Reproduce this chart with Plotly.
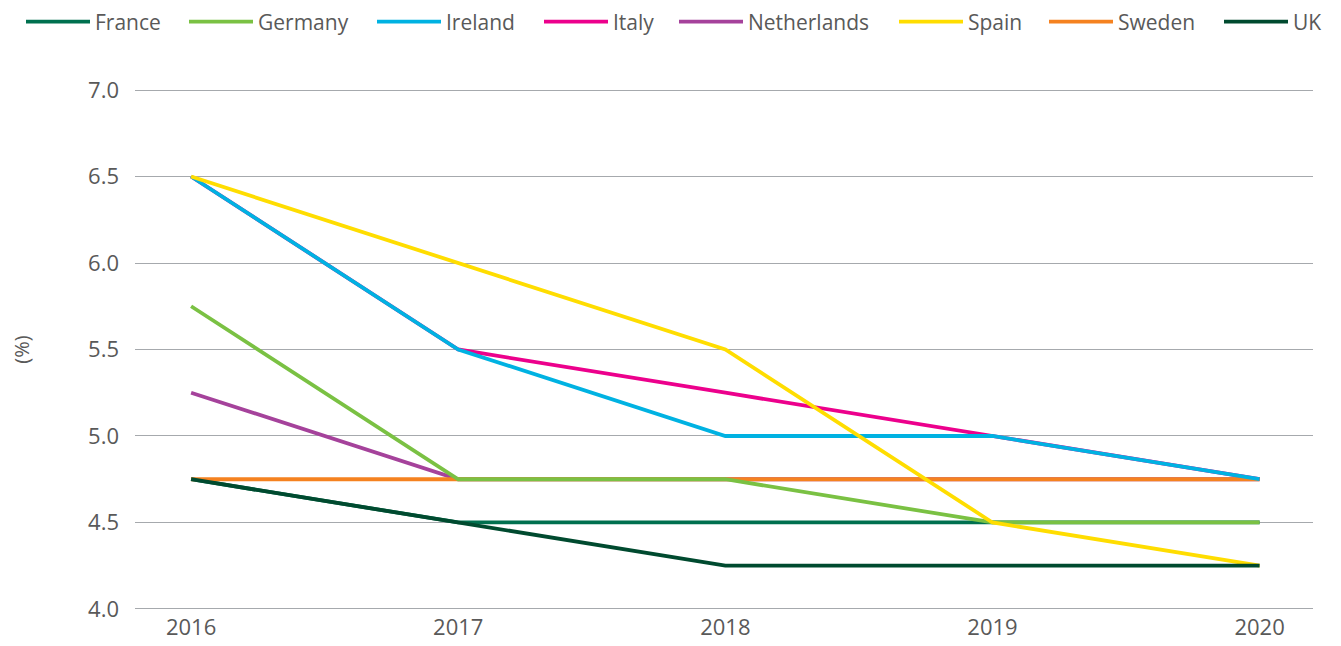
import plotly.graph_objects as go

years = [2016, 2017, 2018, 2019, 2020]
france = [4.75, 4.5, 4.5, 4.5, 4.5]
germany = [5.75, 4.75, 4.75, 4.5, 4.5]
ireland = [6.5, 5.5, 5.0, 5.0, 4.75]
italy = [6.5, 5.5, 5.25, 5.0, 4.75]
netherlands = [5.25, 4.75, 4.75, 4.75, 4.75]
spain = [6.5, 6.0, 5.5, 4.5, 4.25]
sweden = [4.75, 4.75, 4.75, 4.75, 4.75]
uk = [4.75, 4.5, 4.25, 4.25, 4.25]

# (name, values, colour, legend id, legend line-start px); listed in drawing order
series = [
    ("France", france, "#00704f", "legend", 27),
    ("Netherlands", netherlands, "#a5429b", "legend5", 680),
    ("Italy", italy, "#ec008c", "legend4", 545),
    ("Sweden", sweden, "#f58220", "legend7", 1050),
    ("Germany", germany, "#7ac143", "legend2", 190),
    ("Ireland", ireland, "#00b2e2", "legend3", 378),
    ("Spain", spain, "#ffdd00", "legend6", 900),
    ("UK", uk, "#004a2f", "legend8", 1225),
]

W, H = 1341, 646
OFF = 8  # page body margin
FONT = "Open Sans"
TXT = "#595959"

fig = go.Figure()
legends = {}
for name, vals, col, lg, lx in series:
    fig.add_trace(go.Scatter(x=years, y=vals, name=name, mode="lines",
                             line=dict(color=col, width=3.8),
                             legend=lg))
    legends[lg] = dict(orientation="h", xref="container", yref="container",
                       x=(lx - OFF - 6) / W, xanchor="left",
                       y=1 - (22 - OFF) / H, yanchor="middle",
                       bgcolor="rgba(0,0,0,0)", borderwidth=0,
                       itemwidth=64,
                       font=dict(family=FONT, size=21, color=TXT))

fig.update_layout(
    width=W, height=H,
    margin=dict(l=135 - OFF, r=W - (1313 - OFF), t=89 - OFF, b=H - (610 - OFF)),
    plot_bgcolor="white", paper_bgcolor="white",
    font=dict(family=FONT, size=21, color=TXT),
    showlegend=True,
    xaxis=dict(range=[2015.79, 2020.2], tickvals=years,
               ticktext=[str(y) for y in years],
               showgrid=False, zeroline=False, showline=False,
               ticks="", automargin=False, ticklabelstandoff=2,
               tickfont=dict(size=22, color=TXT)),
    yaxis=dict(range=[3.994, 7.006], tickvals=[4.0, 4.5, 5.0, 5.5, 6.0, 6.5, 7.0],
               tickformat=".1f",
               showgrid=True, gridcolor="#a6a9ad", gridwidth=1,
               zeroline=False, showline=False, ticks="",
               automargin=False, ticklabelstandoff=15,
               tickfont=dict(size=22, color=TXT),
               title=dict(text="(%)", font=dict(size=20, color=TXT),
                          standoff=73)),
    **legends,
)

fig.write_html("out.html")
